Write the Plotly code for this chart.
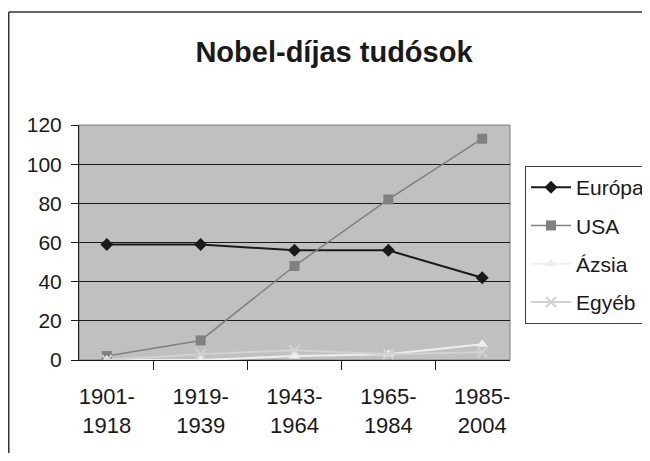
import plotly.graph_objects as go

categories = ["1901-<br>1918", "1919-<br>1939", "1943-<br>1964", "1965-<br>1984", "1985-<br>2004"]
europa = [59, 59, 56, 56, 42]
usa = [2, 10, 48, 82, 113]
azsia = [0, 0, 2, 3, 8]
egyeb = [0, 3, 5, 3, 4]
y_ticks = [0, 20, 40, 60, 80, 100, 120]

FONT = "Liberation Sans, Arial, sans-serif"

fig = go.Figure()
fig.add_trace(go.Scatter(x=categories, y=europa, name="Európa", mode="lines+markers",
                         legendgroup="g1",
                         line=dict(color="#1a1a1a", width=2),
                         marker=dict(symbol="diamond", size=10, color="#1a1a1a")))
fig.add_trace(go.Scatter(x=categories, y=usa, name="USA", mode="lines+markers",
                         legendgroup="g2",
                         line=dict(color="#808080", width=1.5),
                         marker=dict(symbol="square", size=10, color="#808080")))
fig.add_trace(go.Scatter(x=categories, y=azsia, name="Ázsia", mode="lines+markers",
                         legendgroup="g3",
                         line=dict(color="#eeeeee", width=2),
                         marker=dict(symbol="triangle-up", size=10, color="#eeeeee")))
fig.add_trace(go.Scatter(x=categories, y=egyeb, name="Egyéb", mode="lines+markers",
                         legendgroup="g4",
                         line=dict(color="#d2d2d2", width=2),
                         marker=dict(symbol="x-thin-open", size=10,
                                     line=dict(color="#d2d2d2", width=2), color="#d2d2d2")))

# the page draws the figure 8px in from the top-left corner
L, R, T, B = 71, 502, 117, 352
W, H = 642, 445

def px_x(v):
    return (v - L) / (R - L)

def px_y(v):
    return (B - v) / (B - T)

fig.update_layout(
    width=W, height=H,
    margin=dict(l=L, r=W - R, t=T, b=H - B),
    paper_bgcolor="white",
    plot_bgcolor="#c0c0c0",
    font=dict(family=FONT, color="#1a1a1a", size=21),
    title=dict(text="<b>Nobel-díjas tudósok</b>", x=326 / W, xref="container", xanchor="center",
               y=1 - 44 / H, yref="container", yanchor="middle",
               font=dict(size=29, family=FONT, color="#1a1a1a")),
    showlegend=True,
    legend=dict(xref="container", yref="container", x=517 / W, y=1 - 158 / H,
                xanchor="left", yanchor="top", bgcolor="white",
                bordercolor="#404040", borderwidth=1,
                traceorder="grouped", tracegroupgap=8,
                font=dict(size=21, family=FONT, color="#1a1a1a"),
                itemwidth=40),
    xaxis=dict(type="category", tickson="boundaries", ticks="outside", ticklen=9,
               tickcolor="#1a1a1a", showline=True, linecolor="#1a1a1a", linewidth=1,
               showgrid=False, ticklabelstandoff=17,
               tickfont=dict(size=22, family=FONT, color="#1a1a1a")),
    yaxis=dict(range=[0, 120], tickvals=y_ticks, ticks="outside", ticklen=7,
               tickcolor="#1a1a1a", showline=True, linecolor="#1a1a1a", linewidth=1,
               showgrid=True, gridcolor="#1a1a1a", gridwidth=1, zeroline=False,
               ticklabelstandoff=5,
               tickfont=dict(size=21, family=FONT, color="#1a1a1a")),
    shapes=[
        dict(type="rect", xref="paper", yref="paper", x0=0, x1=1, y0=0, y1=1,
             line=dict(color="#808080", width=1), layer="below"),
        # outer chart frame (left and top edges visible)
        dict(type="line", xref="paper", yref="paper",
             x0=px_x(0.75), x1=px_x(0.75), y0=px_y(4), y1=px_y(H),
             line=dict(color="#333333", width=1.5)),
        dict(type="line", xref="paper", yref="paper",
             x0=px_x(0.75), x1=px_x(W), y0=px_y(4), y1=px_y(4),
             line=dict(color="#333333", width=1.5)),
    ],
)

fig.write_html("out.html")
